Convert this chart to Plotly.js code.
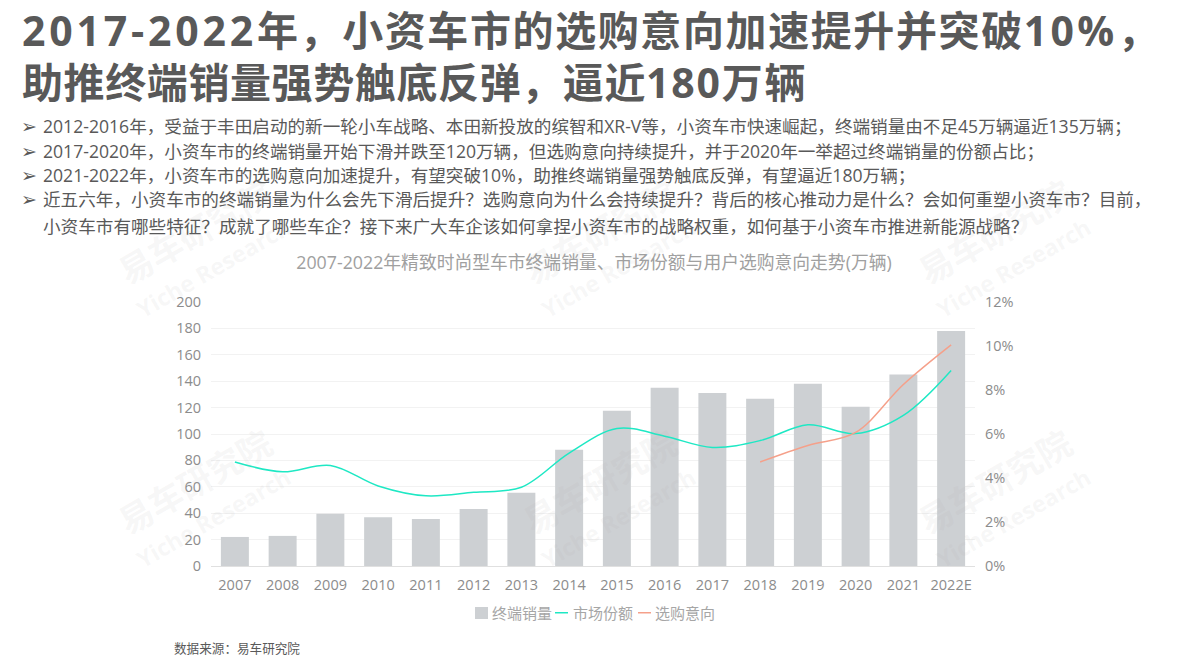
<!DOCTYPE html>
<html><head><meta charset="utf-8">
<script src="https://cdn.plot.ly/plotly-3.0.1.min.js"></script>
<style>html,body{margin:0;padding:0;background:#fff}#c{width:1190px;height:669px}</style>
</head><body><div id="c"></div>
<script>
const years=['2007','2008','2009','2010','2011','2012','2013','2014','2015','2016','2017','2018','2019','2020','2021','2022E'];
const sales=[22,22.8,39.5,37,35.6,43.2,55.4,88,117.6,135,131,126.7,138,120.6,145,178];
const share=[4.73,4.28,4.57,3.64,3.19,3.35,3.58,5.13,6.25,5.9,5.39,5.7,6.42,6.02,6.85,8.89];
const intent=[null,null,null,null,null,null,null,null,null,null,null,4.73,5.48,6.07,8.25,10.05];
const leftTicks=[0,20,40,60,80,100,120,140,160,180,200];
const rightTicks=[0,2,4,6,8,10,12];
const rightLabels=['0%','2%','4%','6%','8%','10%','12%'];
const sp=(t,s)=>'<span style="letter-spacing:'+s+'px">'+t+'</span>';
const titleLines=[
 sp('2017-2022',3.8)+sp('年，小资车市的选购意向加速提升并突破',1.6)+sp('10%，',3.3),
 sp('助推终端销量强势触底反弹，逼近',0.6)+sp('180万辆',1.8)];
const bodyLines=[
 ['➢','2012-2016年，受益于丰田启动的新一轮小车战略、本田新投放的缤智和XR-V等，小资车市快速崛起，终端销量由不足45万辆逼近135万辆；'],
 ['➢','2017-2020年，小资车市的终端销量开始下滑并跌至120万辆，但选购意向持续提升，并于2020年一举超过终端销量的份额占比；'],
 ['➢','2021-2022年，小资车市的选购意向加速提升，有望突破10%，助推终端销量强势触底反弹，有望逼近180万辆；'],
 ['➢','近五六年，小资车市的终端销量为什么会先下滑后提升？选购意向为什么会持续提升？背后的核心推动力是什么？会如何重塑小资车市？目前，'],
 ['','小资车市有哪些特征？成就了哪些车企？接下来广大车企该如何拿捏小资车市的战略权重，如何基于小资车市推进新能源战略？']];
const FONT='"Open Sans","Noto Sans CJK SC",sans-serif';
const SHARE_C='#1ee8c4',INTENT_C='#f5a08a',BAR_C='#cdd0d3',LEG_C='#a6a6a6';
const W=1190,H=669,ML=211,MR=215,MT=302,MB=103;
const PW=W-ML-MR,PH=H-MT-MB;
const fx=x=>(x-ML)/PW, fy=y=>1-(y-MT)/PH;
const px=(x,y,text,size,color,extra)=>Object.assign({xref:'paper',yref:'paper',x:fx(x),y:fy(y),xanchor:'left',yanchor:'middle',showarrow:false,text,font:{family:FONT,size,color}},extra||{});
const ann=[];
[[195,240],[600,240],[995,240],[195,490],[600,490],[995,490]].forEach(p=>{
  ann.push(px(p[0],p[1]-8,'<b>易车研究院</b>',34,'rgba(175,175,175,0.11)',{xanchor:'center',textangle:-30}));
  ann.push(px(p[0]+18,p[1]+28,'<b>Yiche Research</b>',23,'rgba(175,175,175,0.11)',{xanchor:'center',textangle:-30}));
});
titleLines.forEach((t,i)=>ann.push(px(20,[30,82][i],'<b>'+t+'</b>',41,'#595959')));
const bodyY=[126,151,175,199,226];
bodyLines.forEach((l,i)=>{
  if(l[0]){const a=px(19,bodyY[i],l[0],19,'#595959');a.font.family='"DejaVu Sans"';ann.push(a);}
  ann.push(px(41,bodyY[i],l[1],17.6,'#595959'));
});
ann.push(px(172,648,'数据来源：易车研究院',12.6,'#595959'));
const legendItems=[['终端销量',490],['市场份额',571],['选购意向',653]];
legendItems.forEach(l=>ann.push(px(l[1],613,l[0],15,LEG_C)));
const lineRect=(x0,x1,y0,y1,c)=>({type:'rect',xref:'paper',yref:'paper',x0:fx(x0),x1:fx(x1),y0:fy(y1),y1:fy(y0),fillcolor:c,line:{width:0},layer:'above'});
const legendShapes=[lineRect(475,488,607,619,BAR_C),lineRect(555,568,612,613.5,SHARE_C),lineRect(638,651,612,613.5,INTENT_C)];
const traces=[
 {type:'bar',name:'终端销量',x:years,y:sales,marker:{color:BAR_C},width:0.586},
 {type:'scatter',mode:'lines',name:'市场份额',x:years,y:share,yaxis:'y2',line:{color:SHARE_C,width:1.5,shape:'spline',smoothing:1}},
 {type:'scatter',mode:'lines',name:'选购意向',x:years,y:intent,yaxis:'y2',line:{color:INTENT_C,width:1.5,shape:'spline',smoothing:1}}
];
const layout={
 width:W,height:H,margin:{l:ML,r:MR,t:MT,b:MB},paper_bgcolor:'#fff',plot_bgcolor:'rgba(0,0,0,0)',
 font:{family:FONT,color:'#8c8c8c',size:14},
 title:{text:'2007-2022年精致时尚型车市终端销量、市场份额与用户选购意向走势(万辆)',font:{family:FONT,size:17.8,color:'#a0a0a0'},x:594/W,xanchor:'center',y:1-263/H,yanchor:'middle'},
 showlegend:false,
 xaxis:{type:'category',categoryorder:'array',categoryarray:years,tickmode:'array',tickvals:years,ticktext:years,showgrid:false,showline:true,linecolor:'#e0e0e0',ticks:'',tickfont:{size:14.5,color:'#8c8c8c'},automargin:false,tickangle:0,ticklabelstandoff:6},
 yaxis:{range:[0,200],tickmode:'array',tickvals:leftTicks,gridcolor:'#f2f2f2',zeroline:false,ticks:'',tickfont:{size:14.5,color:'#8c8c8c'},automargin:false,ticklabelstandoff:9},
 yaxis2:{range:[0,12],overlaying:'y',side:'right',tickmode:'array',tickvals:rightTicks,ticktext:rightLabels,showgrid:false,zeroline:false,ticks:'',tickfont:{size:14.5,color:'#8c8c8c'},automargin:false,ticklabelstandoff:9},
 annotations:ann,shapes:legendShapes
};
Plotly.newPlot('c',traces,layout,{displayModeBar:false,staticPlot:true});
</script></body></html>
